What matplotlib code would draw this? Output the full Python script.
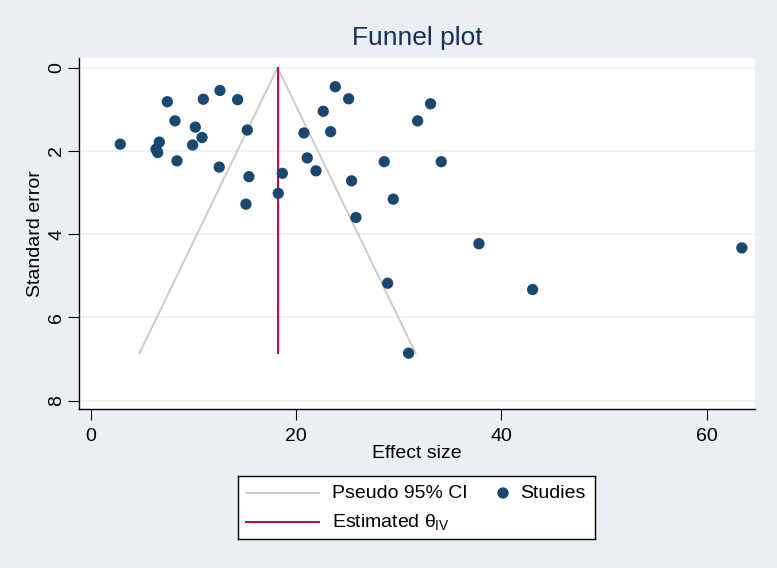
import numpy as np
import matplotlib
matplotlib.use("Agg")
import matplotlib.pyplot as plt

plt.rcParams['font.family'] = ['Liberation Sans', 'DejaVu Sans']
plt.rcParams['mathtext.fontset'] = 'custom'
plt.rcParams['mathtext.rm'] = 'Liberation Sans'
plt.rcParams['mathtext.it'] = 'Liberation Sans'

# study effect sizes and standard errors
effect = [2.88, 7.46, 10.97, 12.59, 14.31, 8.21, 10.19, 10.84, 15.25, 6.68,
          6.36, 6.52, 9.93, 8.40, 12.52, 15.41, 18.27, 15.12, 18.66,
          23.82, 25.12, 22.65, 20.77, 23.37, 33.10, 31.84, 21.09, 21.94, 28.59,
          34.14, 25.41, 29.47, 25.83, 37.81, 28.92, 30.96, 43.04, 63.42]
se = [1.84, 0.82, 0.76, 0.55, 0.77, 1.28, 1.43, 1.68, 1.50, 1.79,
      1.96, 2.04, 1.86, 2.24, 2.39, 2.62, 3.02, 3.28, 2.54,
      0.46, 0.75, 1.05, 1.57, 1.54, 0.87, 1.28, 2.17, 2.48, 2.26,
      2.26, 2.72, 3.16, 3.60, 4.23, 5.18, 6.86, 5.33, 4.33]
theta_iv = 18.2

bg = '#eaf0f2'
navy = '#1a476f'
cranberry = '#c10534'
ci_grey = '#c8c8c8'
W, H = 777, 568

fig = plt.figure(figsize=(W / 100, H / 100), dpi=100, facecolor=bg)
ax = fig.add_axes([79 / W, 1 - 409 / H, 676 / W, 351 / H])
ax.set_facecolor('white')

# pseudo 95% CI funnel
se_max = max(se)
ci_x = [theta_iv - 1.96 * se_max, theta_iv, theta_iv + 1.96 * se_max]
ci_y = [se_max, 0, se_max]
ax.plot(ci_x, ci_y, color=ci_grey, lw=1.3, zorder=2)
ax.plot([theta_iv, theta_iv], [0, se_max], color=cranberry, lw=1.4, zorder=3)
ax.scatter(effect, se, s=66, color=navy, edgecolors='none', zorder=4)

ax.set_xlim(-1.14, 64.7)
ax.set_ylim(8.2, -0.23)
ax.set_xticks([0, 20, 40, 60])
ax.set_yticks([0, 2, 4, 6, 8])
ax.grid(axis='y', color='#eaf2f3', lw=1.2)
ax.set_axisbelow(True)

for s in ['top', 'right']:
    ax.spines[s].set_visible(False)
for s in ['left', 'bottom']:
    ax.spines[s].set_color('black')
    ax.spines[s].set_linewidth(1.0)

ax.tick_params(axis='both', labelsize=14, length=8, color='black')
ax.tick_params(axis='x', pad=6)
ax.tick_params(axis='y', pad=2)
for lab in ax.get_yticklabels():
    lab.set_rotation(90)
    lab.set_va('center')

ax.set_xlabel('Effect size', fontsize=14, labelpad=0)
ax.set_ylabel('Standard error', fontsize=14, labelpad=3)
fig.text(417 / W, 1 - 38 / H, 'Funnel plot', ha='center', va='center',
         fontsize=19, color='#1a2e5a')

# legend box drawn in its own axes (pixel units)
lg = fig.add_axes([238 / W, 1 - 539 / H, 357 / W, 63 / H])
lg.set_facecolor('white')
lg.set_xlim(0, 357)
lg.set_ylim(63, 0)
lg.set_xticks([])
lg.set_yticks([])
for s in lg.spines.values():
    s.set_color('black')
    s.set_linewidth(1.0)
lg.plot([8, 81], [17, 17], color=ci_grey, lw=1.3)
lg.plot([8, 81], [46, 46], color=cranberry, lw=1.4)
lg.scatter([265], [17], s=66, color=navy, edgecolors='none')
lg.text(94, 17, 'Pseudo 95% CI', fontsize=14, va='center')
lg.text(282, 17, 'Studies', fontsize=14, va='center')
lg.text(94, 46, r'Estimated $\theta_{\mathrm{IV}}$', fontsize=14, va='center')

fig.savefig('out.png', dpi=100, facecolor=bg)
